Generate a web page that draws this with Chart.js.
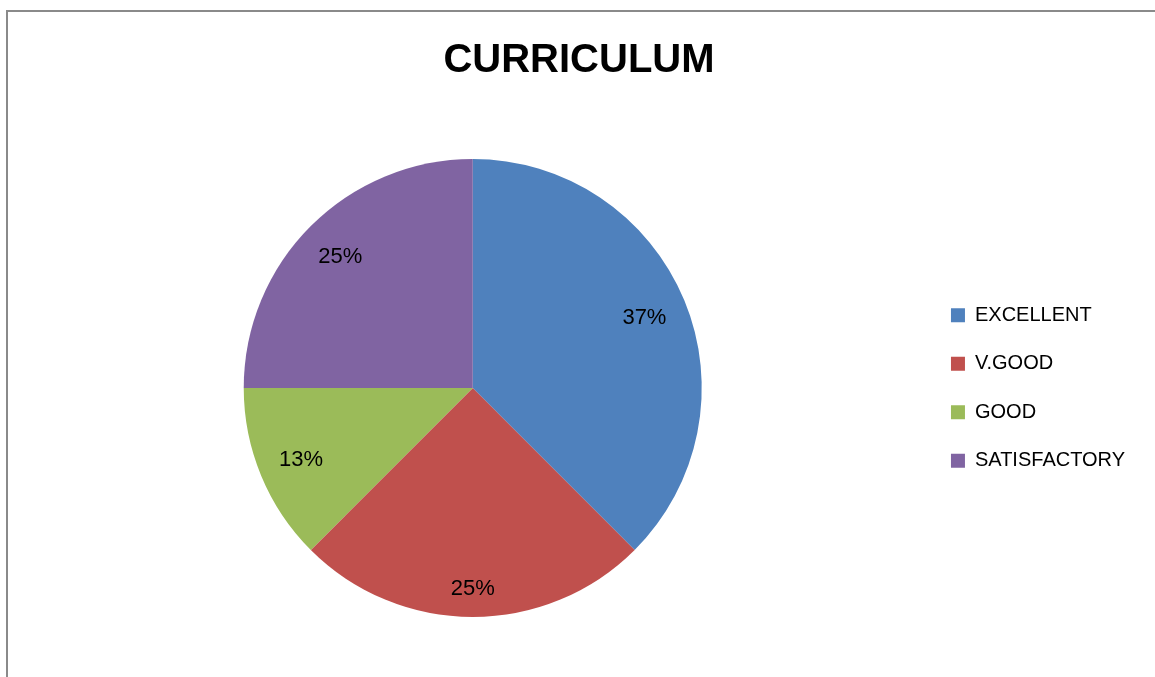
<!DOCTYPE html>
<html>
<head>
<meta charset="utf-8">
<title>CURRICULUM</title>
<script src="https://cdn.jsdelivr.net/npm/chart.js@4.4.1/dist/chart.umd.min.js"></script>
<style>
    html, body { margin: 0; padding: 0; background: #fff; overflow: hidden; }
    #wrap { position: relative; width: 1155px; height: 677px; }
    #frame {
        position: absolute; left: 6px; top: 10px; width: 1300px; height: 900px;
        border-left: 2px solid #8a8a8a; border-top: 2px solid #8a8a8a;
    }
    #chart { position: absolute; left: 0; top: 0; }
</style>
</head>
<body>
<div id="wrap">
    <div id="frame"></div>
    <canvas id="chart" width="1155" height="677"></canvas>
</div>
<script>
// Data
const categories = ['EXCELLENT', 'V.GOOD', 'GOOD', 'SATISFACTORY'];
const shares = [37.5, 25, 12.5, 25];
const shareLabels = ['37%', '25%', '13%', '25%'];
const sliceColors = ['#4F81BD', '#C0504D', '#9BBB59', '#8064A2'];

const FONT = "'Liberation Sans', Arial, sans-serif";

// Percent labels inside each slice, pushed in from the rim (like "inside end")
const sliceLabels = {
    id: 'sliceLabels',
    afterDatasetsDraw(chart) {
        const ctx = chart.ctx;
        const meta = chart.getDatasetMeta(0);
        ctx.save();
        ctx.font = '22px ' + FONT;
        ctx.fillStyle = '#000';
        ctx.textAlign = 'center';
        ctx.textBaseline = 'middle';
        meta.data.forEach((arc, i) => {
            const p = arc.getProps(['x', 'y', 'startAngle', 'endAngle', 'outerRadius'], true);
            const mid = (p.startAngle + p.endAngle) / 2;
            const ux = Math.cos(mid), uy = Math.sin(mid);
            const halfW = ctx.measureText(shareLabels[i]).width / 2;
            const halfH = 10;
            const r = p.outerRadius - 19 - (halfW * Math.abs(ux) + halfH * Math.abs(uy));
            ctx.fillText(shareLabels[i], p.x + ux * r, p.y + uy * r + 1);
        });
        ctx.restore();
    }
};

new Chart(document.getElementById('chart'), {
    type: 'pie',
    data: {
        labels: categories,
        datasets: [{
            data: shares,
            backgroundColor: sliceColors,
            borderWidth: 0
        }]
    },
    options: {
        responsive: false,
        animation: false,
        layout: { padding: { left: 23, right: 20, top: 0, bottom: 60 } },
        plugins: {
            title: {
                display: true,
                text: 'CURRICULUM',
                color: '#000',
                font: { family: FONT, size: 40, weight: 'bold' },
                padding: { top: 37.4, bottom: 73.6 }
            },
            legend: {
                position: 'right',
                fullSize: false,
                labels: {
                    color: '#000',
                    font: { family: FONT, size: 20 },
                    boxWidth: 14,
                    boxHeight: 14,
                    padding: 28.5
                }
            },
            tooltip: { enabled: false }
        }
    },
    plugins: [sliceLabels]
});
</script>
</body>
</html>
